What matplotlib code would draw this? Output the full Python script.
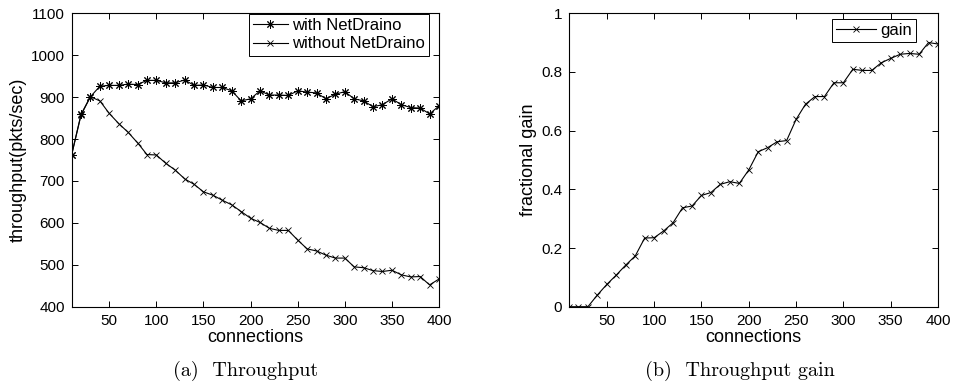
import matplotlib
matplotlib.use("Agg")
import matplotlib.pyplot as plt
import numpy as np

# ---- data ----
connections = list(range(10, 401, 10))
with_netdraino = [762, 859, 901, 926, 928, 928, 931, 930, 940, 940,
                  934, 934, 941, 928, 929, 923, 923, 915, 891, 896,
                  915, 905, 905, 904, 915, 912, 910, 896, 907, 913,
                  896, 891, 877, 882, 896, 882, 875, 874, 860, 879]
without_netdraino = [762, 857, 901, 891, 861, 837, 816, 791, 763, 762,
                     742, 726, 705, 692, 674, 666, 654, 643, 627, 611,
                     601, 587, 582, 582, 559, 538, 533, 523, 516, 516,
                     495, 493, 486, 484, 487, 476, 471, 472, 452, 466]
gain = [0.0, 0.0, 0.0, 0.04, 0.076, 0.108, 0.142, 0.173, 0.234, 0.235,
        0.258, 0.286, 0.337, 0.343, 0.379, 0.389, 0.417, 0.426, 0.42, 0.466,
        0.528, 0.542, 0.562, 0.566, 0.638, 0.69, 0.716, 0.716, 0.763, 0.763,
        0.809, 0.805, 0.805, 0.831, 0.846, 0.86, 0.863, 0.86, 0.9, 0.895]

x_ticks = [50, 100, 150, 200, 250, 300, 350, 400]
left_y_ticks = [400, 500, 600, 700, 800, 900, 1000, 1100]
right_y_ticks = [0, 0.2, 0.4, 0.6, 0.8, 1]
right_y_ticklabels = ["0", "0.2", "0.4", "0.6", "0.8", "1"]

plt.rcParams['font.family'] = ['Liberation Sans', 'DejaVu Sans']

W, H = 955, 382
fig = plt.figure(figsize=(W / 100, H / 100), dpi=100)

def rect(x0, y0, x1, y1):
    return [x0 / W, 1 - y1 / H, (x1 - x0) / W, (y1 - y0) / H]

ax1 = fig.add_axes(rect(71.6, 13.3, 439, 306.7))
ax2 = fig.add_axes(rect(569, 13.2, 938, 306.7))

ASTERISK = (8, 2, 0)

for ax in (ax1, ax2):
    ax.set_xlim(10, 400)
    ax.set_xticks(x_ticks)
    ax.tick_params(direction='in', top=True, right=True, length=4,
                   width=0.7, labelsize=11, colors='black')
    ax.tick_params(axis='x', pad=5)
    ax.tick_params(axis='y', pad=5)
    for s in ax.spines.values():
        s.set_linewidth(0.8)
        s.set_color('black')
    ax.set_xlabel('connections', fontsize=13, labelpad=1)

# left panel
ax1.plot(connections, with_netdraino, color='black', lw=0.8, marker=ASTERISK,
         ms=6, mew=0.7, label='with NetDraino')
ax1.plot(connections, without_netdraino, color='black', lw=0.8, marker='x',
         ms=5, mew=0.6, label='without NetDraino')
ax1.set_ylim(400, 1100)
ax1.set_yticks(left_y_ticks)
ax1.set_ylabel('throughput(pkts/sec)', fontsize=13, labelpad=3)
leg1 = ax1.legend(loc='upper right', bbox_to_anchor=(429 / W, 1 - 14 / H),
                  bbox_transform=fig.transFigure, fontsize=12,
                  fancybox=False, edgecolor='black', framealpha=1,
                  handlelength=2.1, handletextpad=0.25, labelspacing=0.2,
                  borderpad=0.25, borderaxespad=0)
leg1.get_frame().set_linewidth(0.7)

# right panel
ax2.plot(connections, gain, color='black', lw=0.8, marker='x',
         ms=5, mew=0.6, label='gain')
ax2.set_ylim(0, 1)
ax2.set_yticks(right_y_ticks)
ax2.set_yticklabels(right_y_ticklabels)
ax2.set_ylabel('fractional gain', fontsize=13, labelpad=3)
leg2 = ax2.legend(loc='upper right', bbox_to_anchor=(916 / W, 1 - 19 / H),
                  bbox_transform=fig.transFigure, fontsize=12,
                  fancybox=False, edgecolor='black', framealpha=1,
                  handlelength=2.4, handletextpad=0.25, borderpad=0.25,
                  borderaxespad=0)
leg2.get_frame().set_linewidth(0.7)

# captions
fig.text(246 / W, 1 - 376 / H, '(a)  Throughput', family='cmr10',
         fontsize=14.5, ha='center', va='baseline')
fig.text(740 / W, 1 - 376 / H, '(b)  Throughput gain', family='cmr10',
         fontsize=14.5, ha='center', va='baseline')

fig.savefig('out.png', dpi=100)
